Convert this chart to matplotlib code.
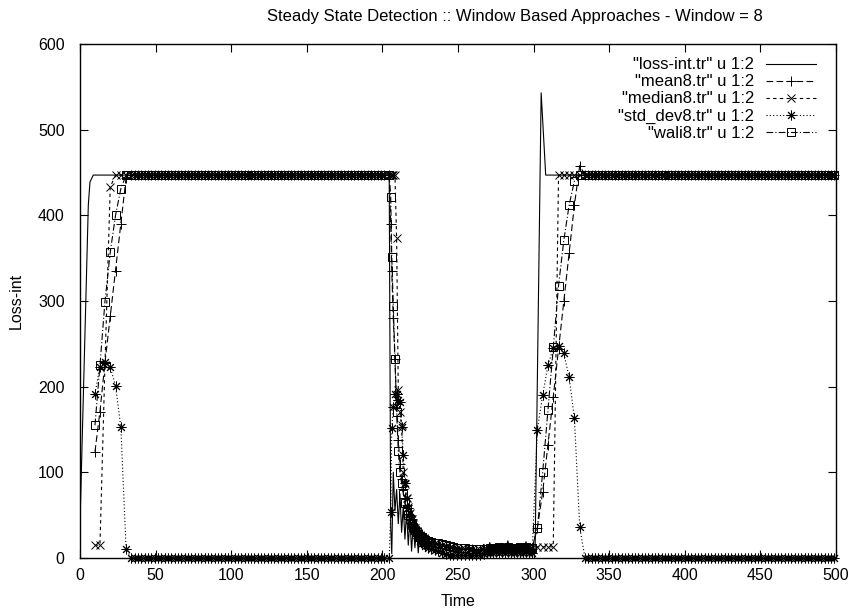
import numpy as np
import matplotlib.pyplot as plt

plt.rcParams['font.family'] = ['Liberation Sans', 'DejaVu Sans']
plt.rcParams['font.size'] = 12

# sample times of the window outputs, piece by piece
t_rise1 = [9.9, 13.2, 16.5, 20.0, 23.5, 27.0, 30.5, 34.0]
t_drop = [204.5, 205.5, 206.2, 207.2, 208.3, 209.4, 210.5, 211.6, 212.7, 213.8,
          214.9, 216.0, 217.1, 218.2, 219.3, 220.4, 221.5, 222.6, 223.7, 224.8,
          226.0, 227.2, 228.5, 230.0]
t_low = [232, 234.5, 237, 239.5, 242, 244.5, 247, 249.5, 252, 254.5, 257, 259.5,
         262, 264.5, 267, 269, 271, 273, 275, 277, 279, 281, 283, 285, 287, 289,
         291, 293, 295, 297, 299]
t_rise2 = [302.5, 306.0, 309.5, 313.0, 316.5, 320.0, 323.5, 327.0, 330.5, 334.0]
step = 2.2
t_flat1 = np.arange(36.2, 203, step)
t_flat2 = np.arange(336.2, 500.5, step)
steady = 447

# raw loss interval trace
loss_t1 = [0, 0.3, 5.5, 6.6, 8.8]
loss_v1 = [0, 60, 412, 439, 447]
loss_drop = [447, 36, 5, 100, 55, 80, 40, 75, 30, 60, 22, 55, 15, 45, 8, 40, 12,
             35, 6, 30, 14, 26, 10, 22]
loss_low = [15, 8, 18, 6, 14, 9, 15, 7, 12, 10, 13, 8, 5, 9, 16, 4, 18, 6, 14, 3,
            17, 8, 20, 5, 13, 2, 16, 9, 19, 4, 10]
loss_t2 = [301, 305, 308, 500]
loss_v2 = [10, 543, 447, 447]

# window = 8 estimators
mean_rise1 = [124, 171, 228, 282, 335, 390, 444, 447]
mean_drop = [447, 390, 335, 280, 232, 180, 138, 110, 92, 80, 70, 62, 55, 50, 45,
             40, 36, 33, 30, 28, 26, 24, 22, 20]
mean_low = [19, 17, 16, 15, 14, 13, 12, 12, 11, 11, 11, 10, 9, 9, 10, 10, 11, 11,
            11, 11, 12, 12, 11, 12, 11, 11, 12, 12, 11, 12, 11]
mean_rise2 = [35, 77, 132, 188, 244, 300, 356, 412, 458, 447]

median_rise1 = [15, 15, 225, 433, 447, 447, 447, 447]
median_drop = [447, 447, 447, 447, 447, 373, 196, 170, 155, 100, 86, 70, 60, 52,
               46, 40, 35, 32, 29, 27, 25, 23, 21, 20]
median_low = [19, 18, 16, 15, 14, 13, 12, 12, 11, 11, 11, 10, 9, 9, 9, 10, 11, 12,
              12, 13, 12, 11, 12, 12, 11, 12, 13, 12, 12, 13, 12]
median_rise2 = [13, 13, 13, 13, 447, 447, 447, 447, 447, 447]

std_rise1 = [192, 223, 229, 223, 201, 153, 10, 0]
std_drop = [0, 54, 152, 176, 192, 192, 185, 182, 153, 120, 88, 70, 58, 48, 40, 34,
            30, 26, 23, 20, 18, 16, 14, 12]
std_low = [11, 9, 8, 6, 5, 4, 4, 3, 3, 3, 3, 3, 3, 4, 5, 6, 6, 6, 7, 6, 7, 6, 7, 6,
           6, 7, 6, 6, 7, 6, 6]
std_rise2 = [150, 190, 225, 245, 248, 239, 211, 163, 36, 0]

wali_rise1 = [155, 225, 299, 357, 400, 431, 447, 447]
wali_drop = [447, 421, 351, 294, 232, 171, 125, 100, 87, 75, 64, 56, 50, 45, 40,
             36, 33, 30, 28, 26, 24, 22, 21, 20]
wali_low = [19, 18, 17, 16, 15, 14, 13, 12, 12, 12, 11, 11, 10, 10, 11, 11, 12, 12,
            12, 13, 12, 12, 13, 12, 12, 12, 13, 12, 13, 12, 12]
wali_rise2 = [35, 100, 173, 246, 318, 371, 412, 440, 447, 447]


def join(rise1, flat, drop, low, rise2):
    t = np.concatenate([t_rise1, t_flat1, t_drop, t_low, t_rise2, t_flat2])
    v = np.concatenate([rise1, [flat] * len(t_flat1), drop, low, rise2,
                        [flat] * len(t_flat2)])
    return t, v


def main():
    fig = plt.figure(figsize=(8.54, 6.11), dpi=100)
    ax = fig.add_axes([80 / 854, 1 - 558 / 611, 756 / 854, 514 / 611])

    lt = np.concatenate([loss_t1, t_drop, t_low, loss_t2])
    lv = np.concatenate([loss_v1, loss_drop, loss_low, loss_v2])
    ax.plot(lt, lv, color='black', lw=0.8, label='"loss-int.tr" u 1:2')

    series = [
        (join(mean_rise1, steady, mean_drop, mean_low, mean_rise2),
         '"mean8.tr" u 1:2', (0, (6, 3)), dict(marker='+', ms=7)),
        (join(median_rise1, steady, median_drop, median_low, median_rise2),
         '"median8.tr" u 1:2', (0, (3, 3)), dict(marker='x', ms=5.5)),
        (join(std_rise1, 0, std_drop, std_low, std_rise2),
         '"std_dev8.tr" u 1:2', (0, (1, 2)), dict(marker=(8, 2, 0), ms=7)),
        (join(wali_rise1, steady, wali_drop, wali_low, wali_rise2),
         '"wali8.tr" u 1:2', (0, (6, 2, 1, 2)), dict(marker='s', ms=6, mfc='none')),
    ]
    for (t, v), label, ls, mk in series:
        ax.plot(t, v, color='black', lw=0.8, linestyle=ls, mec='black', mew=0.7,
                clip_on=False, label=label, **mk)

    ax.set_xlim(0, 500)
    ax.set_ylim(0, 600)
    ax.set_xticks(np.arange(0, 501, 50))
    ax.set_yticks(np.arange(0, 601, 100))
    ax.tick_params(direction='in', top=True, right=True, length=6, width=0.8,
                   labelsize=11.5)
    ax.tick_params(axis='x', pad=7)
    ax.tick_params(axis='y', pad=11)
    for s in ax.spines.values():
        s.set_linewidth(1.0)

    ax.set_xlabel('Time', labelpad=8, fontsize=11.5)
    ax.set_ylabel('Loss-int', labelpad=10, fontsize=11.5)
    fig.text(515 / 854, 1 - 17 / 611, 'Steady State Detection :: Window Based '
             'Approaches - Window = 8', ha='center', va='center', fontsize=12)

    ax.legend(loc='upper right', bbox_to_anchor=(0.984, 0.99),
              frameon=False, markerfirst=False, numpoints=1,
              handlelength=3.0, handletextpad=0.7, labelspacing=0.12,
              borderpad=0, fontsize=12)

    fig.savefig('out.png', dpi=100)


if __name__ == "__main__":
    main()
